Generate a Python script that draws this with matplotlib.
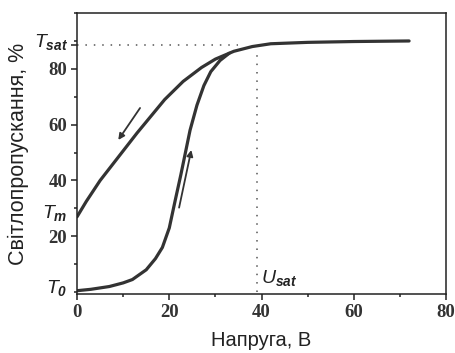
import matplotlib.pyplot as plt
from matplotlib.ticker import MultipleLocator

plt.rcParams['mathtext.fontset'] = 'custom'
plt.rcParams['mathtext.rm'] = 'Liberation Sans'
plt.rcParams['mathtext.it'] = 'Liberation Sans:italic'
plt.rcParams['mathtext.bf'] = 'Liberation Sans:italic:bold'

# прямий хід (зростання напруги)
u_up = [0, 3, 7, 10, 12, 15, 17, 18.5, 20, 21.3, 22.5, 23.5, 24.5, 26, 27.5, 29, 31, 33]
t_up = [0.5, 1, 2, 3.3, 4.5, 8, 12, 16, 23, 33, 42, 50, 58, 67, 74, 79, 83, 85.6]

# зворотний хід (зменшення напруги)
u_down = [0, 2, 5, 9, 13, 16, 19, 23, 27, 30, 34, 38, 42, 50, 60, 72]
t_down = [27, 32.5, 40, 48.5, 57, 63, 69, 75.5, 80.5, 83.5, 86.3, 88, 89, 89.5, 89.8, 90]

T_sat, T_m, T_0 = 88.5, 27.5, 0
U_sat = 39

fig = plt.figure(figsize=(4.56, 3.53), dpi=100)
ax = fig.add_axes([0.169, 0.167, 0.809, 0.796])
for s in ax.spines.values():
    s.set_visible(True)
    s.set_linewidth(1.1)
    s.set_color('#222222')

ax.plot(u_up, t_up, color='#333333', lw=2.3, solid_capstyle='round')
ax.plot(u_down, t_down, color='#333333', lw=2.3, solid_capstyle='round')

# пунктирні допоміжні лінії
ax.plot([0, 35], [T_sat, T_sat], color='#555555', lw=1.1, ls=(0, (1, 4.5)))
ax.plot([U_sat, U_sat], [0, 86.5], color='#555555', lw=1.1, ls=(0, (1, 4.5)))

# стрілки напрямку
ax.annotate('', xy=(8.6, 53.7), xytext=(14, 66.8),
            arrowprops=dict(arrowstyle='-|>', color='#333333', lw=1.3, mutation_scale=9))
ax.annotate('', xy=(24.9, 51.9), xytext=(22, 29.3),
            arrowprops=dict(arrowstyle='-|>', color='#333333', lw=1.3, mutation_scale=9))

ax.set_xlim(0, 80)
ax.set_ylim(-0.7, 100)
ax.set_xticks([0, 20, 40, 60, 80])
ax.xaxis.set_minor_locator(MultipleLocator(10))
ax.set_yticks([20, 40, 60, 80, T_sat])
ax.set_yticklabels(['20', '40', '60', '80', ''])
ax.yaxis.set_minor_locator(MultipleLocator(10))
ax.tick_params(which='major', length=4, width=1.1, labelsize=13.5, pad=3, color='#222222')
ax.tick_params(which='minor', length=2.5, width=1.1, color='#222222')
for lab in ax.get_xticklabels() + ax.get_yticklabels():
    lab.set_family('Liberation Serif')
    lab.set_fontweight('bold')
    lab.set_color('#333333')

tr = ax.get_yaxis_transform()
ax.text(-0.025, T_sat + 1, r'$T_{\mathbf{sat}}$', transform=tr, ha='right', va='center', fontsize=14, color='#222222')
ax.text(-0.025, T_m + 1, r'$T_{\mathbf{m}}$', transform=tr, ha='right', va='center', fontsize=14, color='#222222')
ax.text(-0.025, T_0 + 1.5, r'$T_{\mathbf{0}}$', transform=tr, ha='right', va='center', fontsize=14, color='#222222')
ax.text(U_sat + 0.8, 1.5, r'$U_{\mathbf{sat}}$', ha='left', va='bottom', fontsize=14, color='#222222')

ax.set_xlabel('Напруга, В', family='Liberation Sans', fontsize=14.5, color='#222222')
ax.xaxis.set_label_coords(0.5, -0.13)
ax.xaxis.label.set_va('top')
ax.set_ylabel('Світлопропускання, %', family='Liberation Sans', fontsize=15.5, color='#222222')
ax.yaxis.set_label_coords(-0.13, 0.5)

fig.savefig('out.png', dpi=100)
